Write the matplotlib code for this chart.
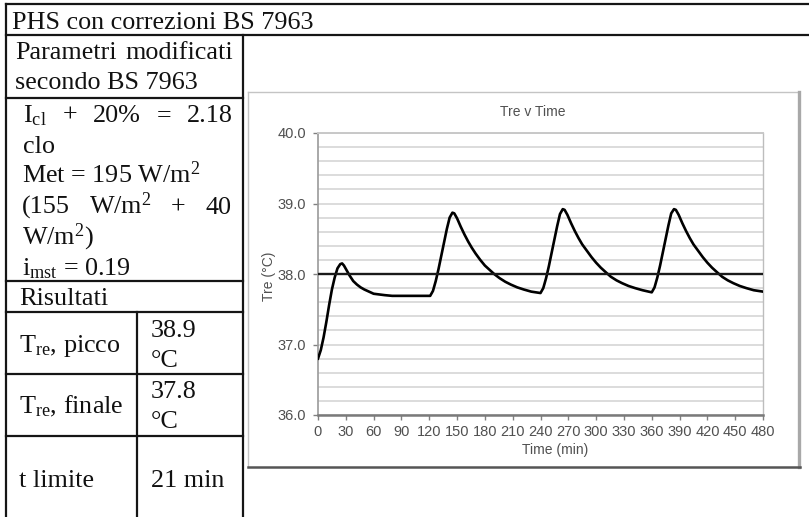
import matplotlib
matplotlib.use("Agg")
import matplotlib.pyplot as plt
from matplotlib.lines import Line2D
from matplotlib.ticker import MultipleLocator, FormatStrFormatter

# ---------------- data ----------------
# rectal temperature (Tre, degC) over the work shift (min)
time_min = [0, 3, 6, 9, 12, 15, 18, 21, 24, 26, 28, 31, 34, 38, 42, 46, 50, 55, 60, 66,
            72, 80, 90, 100, 110, 121,
            124, 127, 130, 133, 136, 139, 142, 145, 147, 150, 154, 158, 162, 166, 170,
            175, 180, 185, 190, 196, 202, 208, 215, 222, 230, 240,
            243, 246, 249, 252, 255, 258, 261, 264, 266, 269, 273, 277, 281, 285, 290,
            295, 300, 305, 310, 316, 322, 328, 335, 342, 350, 360,
            363, 366, 369, 372, 375, 378, 381, 384, 386, 389, 393, 397, 401, 405, 410,
            415, 420, 425, 430, 436, 442, 448, 455, 462, 470, 480]
tre = [36.80, 36.92, 37.10, 37.32, 37.56, 37.78, 37.95, 38.08, 38.14, 38.15, 38.12, 38.05,
       37.98, 37.90, 37.85, 37.81, 37.78, 37.75, 37.72, 37.71, 37.70, 37.69, 37.69, 37.69,
       37.69, 37.69,
       37.76, 37.90, 38.07, 38.26, 38.45, 38.64, 38.80, 38.87, 38.86, 38.79, 38.67, 38.56,
       38.46, 38.37, 38.29, 38.20, 38.12, 38.06, 38.00, 37.94, 37.89, 37.85, 37.81, 37.78,
       37.75, 37.73,
       37.80, 37.94, 38.11, 38.30, 38.49, 38.68, 38.85, 38.92, 38.91, 38.84, 38.72, 38.61,
       38.51, 38.42, 38.33, 38.24, 38.16, 38.09, 38.03, 37.96, 37.91, 37.87, 37.83, 37.80,
       37.77, 37.74,
       37.81, 37.95, 38.12, 38.31, 38.50, 38.69, 38.86, 38.92, 38.91, 38.84, 38.72, 38.61,
       38.51, 38.42, 38.33, 38.24, 38.16, 38.09, 38.03, 37.96, 37.91, 37.87, 37.83, 37.80,
       37.77, 37.75]

# 38 degC limit line
limit_time = [0, 480]
limit_tre = [38.0, 38.0]

x_ticks = list(range(0, 481, 30))
y_ticks = [36.0, 37.0, 38.0, 39.0, 40.0]

chart_title = "Tre v Time"
x_label = "Time (min)"
y_label = "Tre (°C)"

table_title = "PHS con correzioni BS 7963"
param_head = ["Parametri", "modificati"]
param_head2 = "secondo BS 7963"
icl_words = [r"I$_{\mathrm{cl}}$", "+", "20%", "=", "2.18"]
clo_text = "clo"
met_text = r"Met = 195 W/m$^{2}$"
met_words = ["(155", r"W/m$^{2}$", "+", "40"]
met_tail = r"W/m$^{2}$)"
imst_text = r"i$_{\mathrm{mst}}$ = 0.19"
results_head = "Risultati"
result_labels = [r"T$_{\mathrm{re}}$, picco", r"T$_{\mathrm{re}}$, finale", "t limite"]
result_values = [["38.9", "°C"], ["37.8", "°C"], ["21 min"]]

# ---------------- figure ----------------
plt.rcParams["mathtext.fontset"] = "custom"
plt.rcParams["mathtext.rm"] = "Liberation Serif"
plt.rcParams["mathtext.it"] = "Liberation Serif:italic"
plt.rcParams["mathtext.bf"] = "Liberation Serif:bold"

W, H = 809, 517
fig = plt.figure(figsize=(W / 100, H / 100), dpi=100)
fig.patch.set_facecolor("white")


def fx(x):
    return x / W


def fy(y):
    return 1 - y / H


def seg(x0, y0, x1, y1, color="#151515", lw=1.6):
    fig.add_artist(Line2D([fx(x0), fx(x1)], [fy(y0), fy(y1)], transform=fig.transFigure,
                          color=color, lw=lw, solid_capstyle="projecting"))


SERIF = dict(family="Liberation Serif", fontsize=18.8, color="#111111")


def put(x, y, s, **kw):
    opts = dict(SERIF)
    opts.update(kw)
    return fig.text(fx(x), fy(y), s, ha="left", va="baseline", **opts)


renderer = fig.canvas.get_renderer()


def justify(words, x0, x1, y):
    arts = [put(x0, y, w) for w in words]
    widths = [a.get_window_extent(renderer).width for a in arts]
    gap = (x1 - x0 - sum(widths)) / (len(words) - 1)
    x = x0
    for a, w in zip(arts, widths):
        a.set_x(fx(x))
        x += w + gap


# table grid
for y in (4, 35):
    seg(6, y, 809, y)
for y in (98, 281, 312, 374, 436):
    seg(6, y, 243, y)
seg(6, 4, 6, 517)
seg(243, 35, 243, 517)
seg(137, 312, 137, 517)

# table text
put(12, 29, table_title)
justify(param_head, 15, 233, 59)
put(15, 89, param_head2)
justify(icl_words, 23, 233, 122)
put(23, 153, clo_text)
justify(met_words, 22, 231, 214)
put(22, 183, met_text)
put(22, 244, met_tail)
put(22, 275, imst_text)
put(19, 305, results_head)

label_base = [352, 413, 487]
value_base = [[337, 367], [398, 428], [487]]
for lab, vals, lb, vb in zip(result_labels, result_values, label_base, value_base):
    put(19, lb, lab)
    for v, b in zip(vals, vb):
        put(151, b, v)

# chart frame
seg(248, 92, 799, 92, color="#c4c4c4", lw=1.0)
seg(248, 92, 248, 467, color="#c4c4c4", lw=1.0)
seg(799, 92, 799, 467, color="#a8a8a8", lw=2.4)
seg(248, 467, 800, 467, color="#555555", lw=1.8)

# plot
GREY = "#505050"
ax = fig.add_axes([fx(318), fy(415), fx(763) - fx(318), fy(133) - fy(415)])
ax.plot(time_min, tre, color="black", lw=1.9, solid_joinstyle="round", zorder=3)
ax.plot(limit_time, limit_tre, color="#1a1a1a", lw=1.7, zorder=3)
ax.set_xlim(0, 480)
ax.set_ylim(36, 40)
ax.set_xticks(x_ticks)
ax.set_yticks(y_ticks)
ax.yaxis.set_major_formatter(FormatStrFormatter("%.1f"))
ax.yaxis.set_minor_locator(MultipleLocator(0.2))
ax.grid(which="both", axis="y", color="#d6d6d6", lw=1.2)
ax.set_axisbelow(True)
ax.tick_params(axis="y", which="minor", length=0)
ax.tick_params(axis="both", which="major", direction="out", length=3.5, width=1.0,
               color="#808080", labelsize=10.5, labelcolor=GREY)
ax.tick_params(axis="y", pad=5)
ax.tick_params(axis="x", pad=4)
for lab in ax.get_xticklabels() + ax.get_yticklabels():
    lab.set_family("Liberation Sans")
ax.spines["left"].set_color("#9a9a9a")
ax.spines["left"].set_linewidth(1.2)
ax.spines["bottom"].set_color("#7a7a7a")
ax.spines["bottom"].set_linewidth(1.8)
ax.spines["right"].set_color("#bdbdbd")
ax.spines["right"].set_linewidth(1.0)
ax.spines["top"].set_color("#c8c8c8")
ax.spines["top"].set_linewidth(1.4)

SANS = dict(family="Liberation Sans", fontsize=10, color=GREY)
fig.text(fx(533), fy(112), chart_title, ha="center", va="center", **SANS)
fig.text(fx(555), fy(450), x_label, ha="center", va="center", **SANS)
fig.text(fx(269), fy(276), y_label, ha="center", va="center", rotation=90, **SANS)

fig.savefig("out.png", dpi=100, facecolor="white")
